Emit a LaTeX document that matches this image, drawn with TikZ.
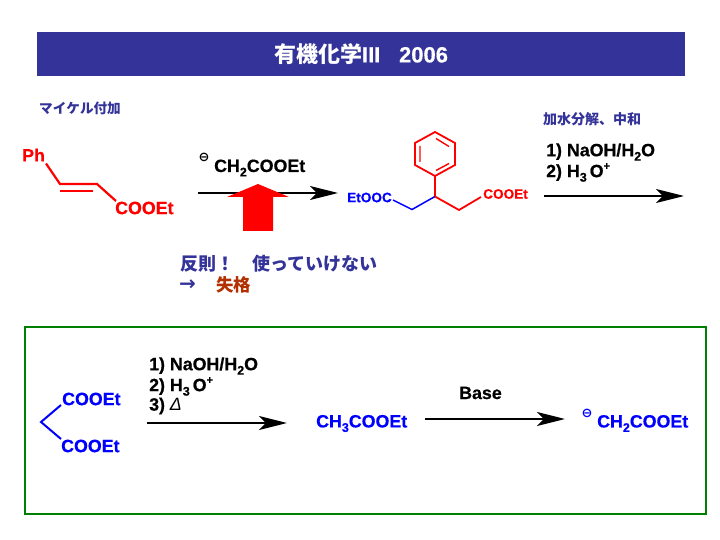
\documentclass[tikz,border=0pt]{standalone}
\usepackage{fontspec}
\setmainfont{Liberation Sans}[BoldFeatures={FakeBold=0.5}]
\newfontfamily\cjk{Noto Sans CJK JP}[BoldFont={Noto Sans CJK JP Black}]
\newfontfamily\djv{DejaVu Sans}
\usetikzlibrary{arrows.meta}
\definecolor{titleblue}{HTML}{333399}
\definecolor{fail}{HTML}{B33000}
\definecolor{boxgreen}{HTML}{008000}
\newcommand{\fsz}[1]{\fontsize{#1pt}{#1pt}\selectfont}
\newcommand{\lowt}[1]{\raisebox{-0.25em}{\fsz{12.5}#1}}
\newcommand{\hight}[1]{\raisebox{0.42em}{\fsz{11}#1}}
\tikzset{
  x=1pt,y=-1pt,
  lbl/.style={inner sep=0pt,anchor=west,font=\bfseries},
  chem/.style={lbl,font=\bfseries\fsz{17.8}},
  smallchem/.style={lbl,font=\bfseries\fsz{13.6}},
  jp/.style={lbl,text=titleblue},
  rxn/.style={line width=2pt,-{Stealth[length=28pt,width=14pt,inset=7pt]}},
  bondred/.style={draw=red,line width=1.8pt},
  bondblue/.style={draw=blue,line width=1.5pt},
  minus/.style={inner sep=0pt,font=\djv\bfseries\fsz{13}},
}
\begin{document}
\begin{tikzpicture}
\useasboundingbox (0,0) rectangle (720,540);
\fill[white] (0,0) rectangle (720,540);
% title
\node[fill=titleblue,minimum width=648pt,minimum height=44pt,inner sep=0pt,text=white,font=\bfseries\fsz{22}] (title) at (361,54) {{\cjk 有機化学}III\hspace{0.85em}2006};
% Michael
\node[jp,font=\cjk\bfseries\fsz{13.6}] (michael) at (39,108) {マイケル付加};
\node[chem,text=red] (ph) at (22,155) {Ph};
\node[chem,text=red] (cooet1) at (115,208) {COOEt};
\coordinate (c1) at (60,184);
\coordinate (c2) at (97,184);
\coordinate (d1) at (60,191);
\coordinate (d2) at (93,191);
\draw[bondred,line width=2.2pt] (46,163.5) -- (c1) -- (c2) -- (116,201);
\draw[bondred,line width=2.2pt] (d1) -- (d2);
% reagent
\node[minus] (m1) at (204,157) {⊖};
\node[chem] (reag) at (214,168) {CH\lowt{2}COOEt};
\coordinate (a1s) at (198,193);
\coordinate (a1e) at (338,193);
\draw[rxn] (a1s) -- (a1e);
\fill[red] (258,184) -- (289,197) -- (273,197) -- (273,231) -- (243,231) -- (243,197) -- (227,197) -- cycle;
% warning
\node[jp,font=\cjk\bfseries\fsz{18}] (warn) at (180,264) {反則！\hspace{1em}使っていけない};
\node[jp,font=\djv\bfseries\fsz{20}] (arr) at (179,285) {→};
\node[lbl,text=fail,font=\cjk\bfseries\fsz{17.5}] (shk) at (216,285) {失格};
% product
\node[smallchem,text=blue] (etooc) at (347,197.5) {EtOOC};
\node[smallchem,text=red] (cooet2) at (483,194) {COOEt};
\coordinate (ce) at (435,196.5);
\coordinate (cr) at (459,210);
\coordinate (cl) at (412,209.5);
\coordinate (bb) at (435,176);
\draw[bondblue] (393,200) -- (cl) -- (ce);
\draw[bondred] (ce) -- (cr) -- (481,197);
\draw[bondred] (ce) -- (bb);
\draw[bondred,line join=miter] (435,132) -- (455,143) -- (455,165) -- (435,176) -- (415,165) -- (415,143) -- cycle;
\draw[bondred,line width=1.4pt] (436,138.5) -- (449,146.5) (449,163.5) -- (436,170.5) (420,162) -- (420,146);
% hydrolysis
\node[jp,font=\cjk\bfseries\fsz{14}] (hyd) at (543,119) {加水分解、中和};
\node[chem] (r1) at (546,152) {1) NaOH/H\lowt{2}O};
\node[chem] (r2) at (546,172.5) {2) H\lowt{3}\,O\hight{+}};
\coordinate (a2s) at (544,196);
\coordinate (a2e) at (684,196);
\draw[rxn] (a2s) -- (a2e);
% box
\draw[boxgreen,line width=2pt] (25,327) rectangle (706,514);
\node[chem,text=blue] (b1) at (62,399) {COOEt};
\node[chem,text=blue] (b2) at (61,446) {COOEt};
\coordinate (bv) at (41,422);
\draw[bondblue,line width=2pt] (61,405) -- (bv) -- (61,439);
\node[chem] (s1) at (149,366) {1) NaOH/H\lowt{2}O};
\node[chem] (s2) at (149,386.5) {2) H\lowt{3}\,O\hight{+}};
\node[chem] (s3) at (149,406) {3) {\normalfont\itshape Δ}};
\coordinate (a3s) at (147,423);
\coordinate (a3e) at (287,423);
\draw[rxn,line width=2.5pt] (a3s) -- (a3e);
\node[chem,text=blue] (ch3) at (316,423.5) {CH\lowt{3}COOEt};
\node[chem] (base) at (459,393) {Base};
\coordinate (a4s) at (425,419);
\coordinate (a4e) at (565,419);
\draw[rxn,line width=2.5pt] (a4s) -- (a4e);
\node[minus,text=blue] (m2) at (587,413) {⊖};
\node[chem,text=blue] (ch2) at (597,423.5) {CH\lowt{2}COOEt};
\end{tikzpicture}
\end{document}
